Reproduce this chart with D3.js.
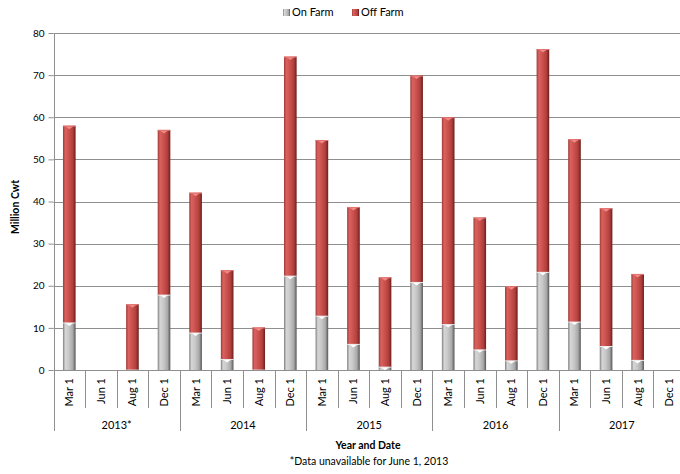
<!DOCTYPE html>
<html>
<head>
<meta charset="utf-8">
<script src="https://cdn.jsdelivr.net/npm/d3@7"></script>
<style>
  body { margin: 0; background: #fff; }
  svg { display: block; font-family: Lato, "Open Sans", sans-serif; }
</style>
</head>
<body>
<svg class="vis" width="680" height="474"></svg>
<script>
// chart values
const years = ['2013*', '2014', '2015', '2016', '2017'];
const dates = ['Mar 1', 'Jun 1', 'Aug 1', 'Dec 1'];
const onFarm  = [11.3, null, 0.1, 17.9,  8.9, 2.6, 0.1, 22.4,  12.9, 6.2, 0.8, 20.9,  10.9, 4.9, 2.3, 23.3,  11.5, 5.7, 2.4, null];
const offFarm = [46.7, null, 15.5, 39.1,  33.2, 21.1, 10.0, 52.0,  41.7, 32.5, 21.2, 49.0,  49.1, 31.3, 17.6, 52.9,  43.3, 32.7, 20.4, null];
const yTicks = [0, 10, 20, 30, 40, 50, 60, 70, 80];
const seriesNames = ['On Farm', 'Off Farm'];

const svg = d3.select('svg.vis');

const m = { left: 53.5, right: 685, top: 33, bottom: 370 };

// one row per category
const rows = [];
years.forEach((yr, i) => {
  dates.forEach((d, j) => {
    const k = i * 4 + j;
    rows.push({ key: k, year: yr, date: d, on: onFarm[k], off: offFarm[k] });
  });
});

const x = d3.scaleBand()
  .domain(rows.map(r => r.key))
  .range([m.left, m.right])
  .paddingInner(0).paddingOuter(0);

const y = d3.scaleLinear().domain([0, 80]).range([m.bottom, m.top]);

// gradients for the cylinder look
const defs = svg.append('defs');
const grads = {
  on:  ['#7d7d7d', '#d6d6d6', '#c9c9c9', '#a9a9a9', '#555555'],
  off: ['#9e3936', '#d9625f', '#cc524f', '#b03f3c', '#6a1e1c']
};
Object.keys(grads).forEach(k => {
  const g = defs.append('linearGradient').attr('id', 'g-' + k)
    .attr('x1', '0%').attr('x2', '100%').attr('y1', '0%').attr('y2', '0%');
  [0, 18, 45, 78, 100].forEach((o, i) => {
    g.append('stop').attr('offset', o + '%').attr('stop-color', grads[k][i]);
  });
});

// gridlines
svg.append('g')
  .selectAll('line')
  .data(yTicks.filter(t => t > 0))
  .join('line')
  .attr('x1', m.left).attr('x2', 680)
  .attr('y1', d => Math.round(y(d)) + 0.5).attr('y2', d => Math.round(y(d)) + 0.5)
  .attr('stroke', '#8f8f8f').attr('stroke-width', 1);

// y axis
const yAxis = svg.append('g')
  .attr('transform', `translate(${m.left},0)`)
  .call(d3.axisLeft(y).tickValues(yTicks).tickSize(5).tickPadding(4));
yAxis.select('.domain').remove();
yAxis.selectAll('line').attr('stroke', '#8f8f8f');
yAxis.selectAll('text').attr('font-size', 10).attr('fill', '#000')
  .style('font-family', 'Lato, sans-serif');

// bars
const barW = x.bandwidth() * 0.4;
const bars = svg.append('g');

rows.filter(r => r.on !== null).forEach(r => {
  const cx = x(r.key) + x.bandwidth() / 2;
  const segs = [
    { k: 'on', y0: 0, y1: r.on },
    { k: 'off', y0: r.on, y1: r.on + r.off }
  ];
  segs.forEach(s => {
    if (s.y1 - s.y0 <= 0) return;
    bars.append('rect')
      .attr('x', cx - barW / 2)
      .attr('width', barW)
      .attr('y', y(s.y1))
      .attr('height', y(s.y0) - y(s.y1))
      .attr('fill', `url(#g-${s.k})`);
    // small cap at the top of each segment
    if (y(s.y0) - y(s.y1) > 3) {
      const ty = y(s.y1);
      bars.append('path')
        .attr('d', `M${cx - barW * 0.32},${ty + 0.5} L${cx + barW * 0.32},${ty + 0.5} L${cx},${ty + 3.5} Z`)
        .attr('fill', s.k === 'on' ? '#ffffff' : '#f08a87');
      bars.append('line')
        .attr('x1', cx - barW / 2).attr('x2', cx + barW / 2)
        .attr('y1', ty + 0.5).attr('y2', ty + 0.5)
        .attr('stroke', s.k === 'on' ? '#eeeeee' : '#e37572').attr('stroke-width', 1);
    }
  });
});

// axis lines
const ax = svg.append('g').attr('stroke', '#8f8f8f').attr('stroke-width', 1);
ax.append('line')
  .attr('x1', m.left).attr('x2', 680)
  .attr('y1', Math.round(y(0)) + 0.5).attr('y2', Math.round(y(0)) + 0.5);
ax.append('line')
  .attr('x1', Math.round(m.left) + 0.5).attr('x2', Math.round(m.left) + 0.5)
  .attr('y1', m.top).attr('y2', 431);

// category separators
rows.forEach((r, i) => {
  if (i === 0) return;
  const bx = Math.round(x(r.key)) + 0.5;
  ax.append('line')
    .attr('x1', bx).attr('x2', bx)
    .attr('y1', y(0)).attr('y2', i % 4 === 0 ? 431 : 408);
});

// category labels
svg.append('g')
  .selectAll('text')
  .data(rows)
  .join('text')
  .attr('transform', d => `translate(${x(d.key) + x.bandwidth() / 2 + 4},378) rotate(-90)`)
  .attr('text-anchor', 'end')
  .attr('font-size', 11)
  .text(d => d.date);

// year labels
svg.append('g')
  .selectAll('text')
  .data(years)
  .join('text')
  .attr('x', (d, i) => (x(i * 4) + x(i * 4 + 3) + x.bandwidth()) / 2)
  .attr('y', 429)
  .attr('text-anchor', 'middle')
  .attr('font-size', 11)
  .text(d => d);

// titles
svg.append('text')
  .attr('transform', 'translate(19,207) rotate(-90)')
  .attr('text-anchor', 'middle')
  .attr('font-size', 10.5).attr('font-weight', 'bold')
  .text('Million Cwt');

svg.append('text')
  .attr('x', 368).attr('y', 449)
  .attr('text-anchor', 'middle')
  .attr('font-size', 10.5).attr('font-weight', 'bold')
  .text('Year and Date');

svg.append('text')
  .attr('x', 369).attr('y', 465)
  .attr('text-anchor', 'middle')
  .attr('font-size', 10.5)
  .text('*Data unavailable for June 1, 2013');

// legend
const legend = svg.append('g');
const legX = [283, 352];
seriesNames.forEach((n, i) => {
  legend.append('rect')
    .attr('x', legX[i]).attr('y', 9).attr('width', 7).attr('height', 7)
    .attr('fill', `url(#g-${i === 0 ? 'on' : 'off'})`);
  legend.append('text')
    .attr('x', legX[i] + 9).attr('y', 16)
    .attr('font-size', 11)
    .text(n);
});
</script>
</body>
</html>
